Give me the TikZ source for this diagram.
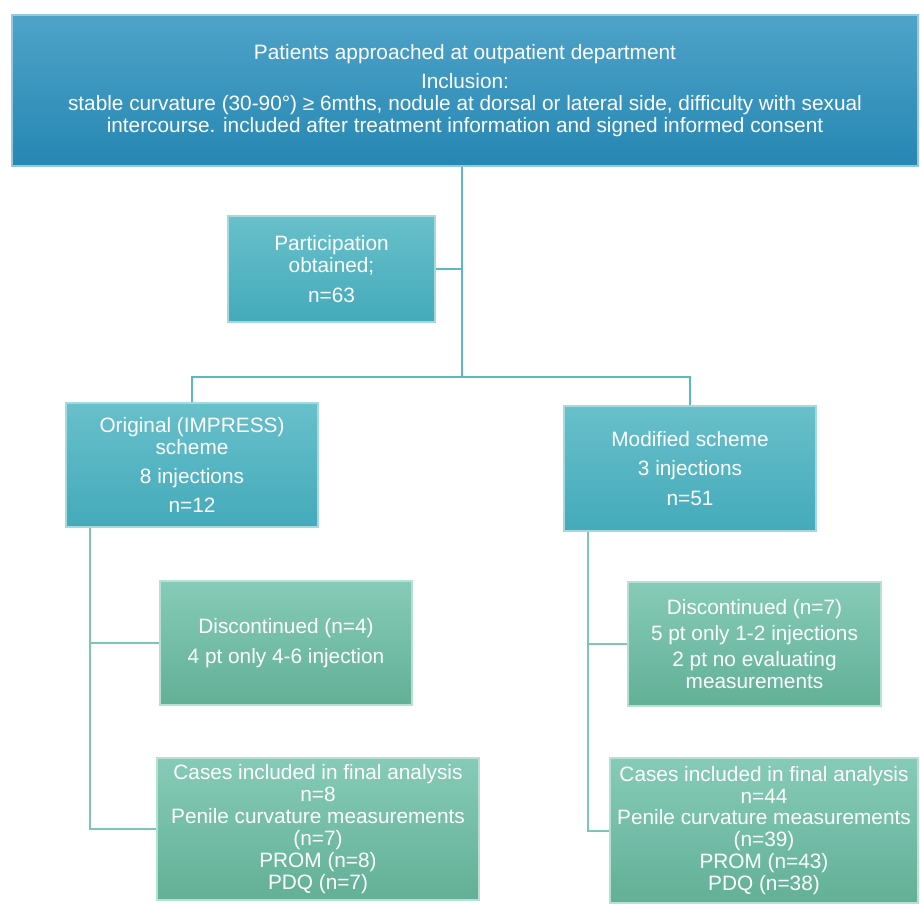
\documentclass[tikz,border=0pt]{standalone}
\usepackage{fontspec}
\setmainfont{Liberation Sans}
\usepackage{tikz}
\usetikzlibrary{shapes,arrows}

\definecolor{topA}{RGB}{78,163,201}
\definecolor{topB}{RGB}{38,135,178}
\definecolor{tealA}{RGB}{104,192,202}
\definecolor{tealB}{RGB}{68,170,186}
\definecolor{greenA}{RGB}{134,203,183}
\definecolor{greenB}{RGB}{98,176,150}
\definecolor{tealline}{RGB}{92,184,194}
\definecolor{greenline}{RGB}{126,198,178}

\tikzset{
  box/.style={rectangle, align=center, text=white, inner sep=0pt,
    font=\fontsize{15.6pt}{16.4pt}\selectfont},
  bluebox/.style={box, top color=topA, bottom color=topB, draw=topA!60!white, line width=0.8pt},
  tealbox/.style={box, top color=tealA, bottom color=tealB, draw=tealA!60!white, line width=0.8pt},
  greenbox/.style={box, top color=greenA, bottom color=greenB, draw=greenA!60!white, line width=0.8pt},
  tealink/.style={draw=tealline, line width=1.5pt},
  greenlink/.style={draw=greenline, line width=1.5pt}
}

\begin{document}
\begin{tikzpicture}[x=0.75pt,y=0.75pt,yscale=-1,xscale=1]
\useasboundingbox (0,0) rectangle (920,903);

\node[bluebox, minimum width=679.5pt, minimum height=113.25pt] (approach) at (465,90.5)
  {Patients approached at outpatient department\\[5.5pt]
   Inclusion:\\
   stable curvature (30-90°) ≥ 6mths, nodule at dorsal or lateral side, difficulty with sexual\\
   intercourse. included after treatment information and signed informed consent};
\node[tealbox, minimum width=155.25pt, minimum height=79.5pt] (participation) at (331.5,269)
  {Participation\\obtained;\\[6pt]n=63};
\node[tealbox, minimum width=189pt, minimum height=93pt] (original) at (192,465)
  {Original (IMPRESS)\\scheme\\[5.5pt]8 injections\\[5.5pt]n=12};
\node[tealbox, minimum width=189pt, minimum height=93.75pt] (modified) at (690,468.5)
  {Modified scheme\\[6pt]3 injections\\[6pt]n=51};
\node[greenbox, minimum width=189pt, minimum height=93pt] (discleft) at (286,643)
  {Discontinued (n=4)\\[6pt]4 pt only 4-6 injection};
\node[greenbox, minimum width=189.75pt, minimum height=93pt] (discright) at (754.5,644)
  {Discontinued (n=7)\\[3pt]5 pt only 1-2 injections\\[3pt]2 pt no evaluating\\measurements};
\node[greenbox, minimum width=241.5pt, minimum height=106.5pt] (casesleft) at (318,829)
  {Cases included in final analysis\\n=8\\Penile curvature measurements\\(n=7)\\PROM (n=8)\\PDQ (n=7)};
\node[greenbox, minimum width=231pt, minimum height=108.75pt] (casesright) at (764,830.5)
  {Cases included in final analysis\\n=44\\Penile curvature measurements\\(n=39)\\PROM (n=43)\\PDQ (n=38)};

% connectors
\coordinate (spine) at (462,377);
\draw[tealink] (approach.south -| spine) -- (spine);
\draw[tealink] (participation.east) -- (participation.east -| spine);
\draw[tealink] (original.north) |- (spine) -| (modified.north);
\draw[greenlink] ([xshift=25pt*0.75]original.south west) |- (discleft.west);
\draw[greenlink] ([xshift=25pt*0.75]original.south west) |- (casesleft.west);
\draw[greenlink] ([xshift=25pt*0.75]modified.south west) |- (discright.west);
\draw[greenlink] ([xshift=25pt*0.75]modified.south west) |- (casesright.west);
\end{tikzpicture}
\end{document}
